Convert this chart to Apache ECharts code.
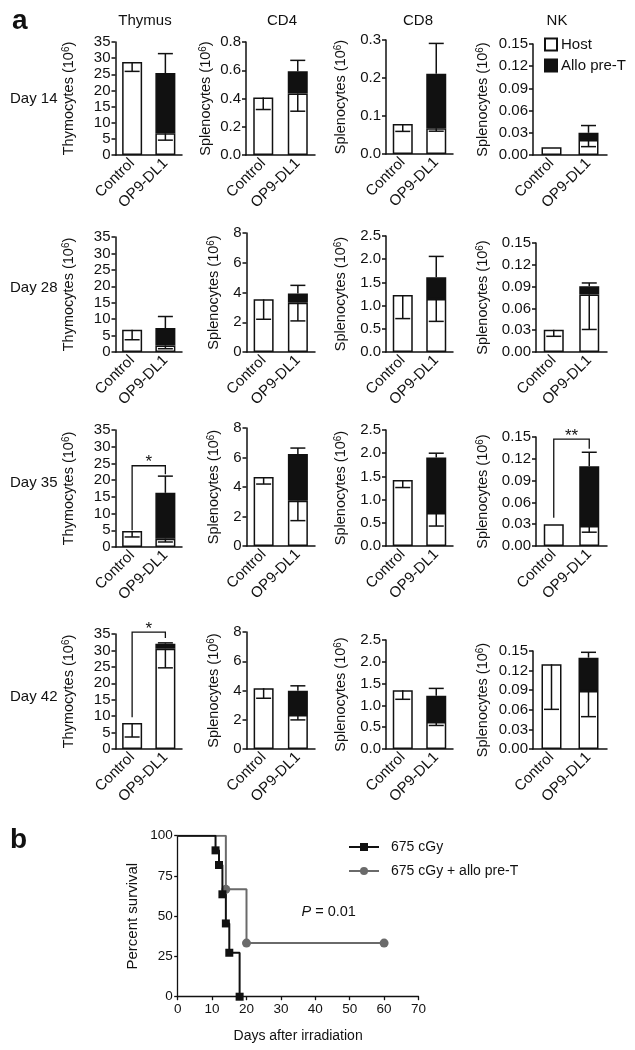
<!DOCTYPE html>
<html><head><meta charset="utf-8">
<script src="https://cdn.jsdelivr.net/npm/echarts@6/dist/echarts.min.js"></script>
<style>html,body{margin:0;padding:0;background:#fff}#c{width:635px;height:1050px}</style>
</head><body><div id="c"></div>
<script>
// ---------------- DATA ----------------
const columns = ['Thymus', 'CD4', 'CD8', 'NK'];
const dayLabels = ['Day 14', 'Day 28', 'Day 35', 'Day 42'];
const groups = ['Control', 'OP9-DL1'];
const cellTypes = ['Thymocytes', 'Splenocytes', 'Splenocytes', 'Splenocytes'];
const legendNames = ['Host', 'Allo pre-T'];

// y-axis tick settings per panel [row][col]
const axisMax = [[35, 0.8, 0.3, 0.15], [35, 8, 2.5, 0.15], [35, 8, 2.5, 0.15], [35, 8, 2.5, 0.15]];
const axisStep = [[5, 0.2, 0.1, 0.03], [5, 2, 0.5, 0.03], [5, 2, 0.5, 0.03], [5, 2, 0.5, 0.03]];
const axisDecimals = [[0, 1, 1, 2], [0, 0, 1, 2], [0, 0, 1, 2], [0, 0, 1, 2]];

// Host (white) values: [Control, OP9-DL1]
const hostValues = [
  [[28.8, 6.7], [0.407, 0.435], [0.079, 0.068], [0.0104, 0.0203]],
  [[6.76, 2.0], [3.54, 3.31], [1.23, 1.14], [0.0307, 0.079]],
  [[4.8, 2.5], [4.67, 3.06], [1.42, 0.71], [0.0298, 0.0275]],
  [[7.9, 30.5], [4.16, 2.33], [1.35, 0.62], [0.1296, 0.0888]]
];
// Allo pre-T (black) values stacked on host: [Control, OP9-DL1]
const alloValues = [
  [[null, 18.7], [null, 0.158], [null, 0.143], [null, 0.0097]],
  [[null, 5.3], [null, 0.63], [null, 0.47], [null, 0.0114]],
  [[null, 13.7], [null, 3.17], [null, 1.2], [null, 0.0821]],
  [[null, 1.56], [null, 1.65], [null, 0.60], [null, 0.051]]
];
// lower whisker ends of host bars: [Control, OP9-DL1]
const hostErrorEnds = [
  [[25.9, 4.6], [0.322, 0.31], [0.0595, 0.06], [null, 0.0113]],
  [[3.73, 1.0], [2.2, 2.09], [0.72, 0.66], [0.0216, 0.031]],
  [[3.0, 1.5], [4.2, 1.72], [1.26, 0.43], [null, 0.019]],
  [[3.65, 24.7], [3.47, 1.99], [1.14, 0.54], [0.0607, 0.0495]]
];
// upper whisker ends of OP9-DL1 totals
const totalErrorEnds = [
  [31.4, 0.67, 0.291, 0.0398],
  [10.8, 4.48, 2.06, 0.095],
  [21.2, 6.64, 2.0, 0.129],
  [32.3, 4.32, 1.39, 0.148]
];
// significance brackets
const sigPanels = [[2, 0], [2, 3], [3, 0]];
const sigLevels = [24.3, 0.147, 35.6];
const sigLeftEnds = [5.0, 0.039, 9.7];
const sigRightEnds = [21.8, 0.134, 33.8];
const sigLabels = ['*', '**', '*'];

// survival (panel b)
const survivalNames = ['675 cGy', '675 cGy + allo pre-T'];
const survivalIrrDays = [0, 11, 12, 13, 14, 15, 18];
const survivalIrrPct = [100, 90.9, 81.8, 63.6, 45.5, 27.3, 0];
const survivalPreTDays = [0, 14, 20, 60];
const survivalPreTPct = [100, 66.7, 33.3, 33.3];
const survivalXTicks = [0, 70, 10];
const survivalYTicks = [0, 100, 25];

// ---------------- LAYOUT ----------------
const FONT = "'Liberation Sans', Arial, Helvetica, sans-serif";
const INK = '#111';
const panelLeft = [[115.5, 246, 386, 533], [115.5, 246.5, 386, 536], [115.5, 246.5, 386, 536], [115.5, 246.5, 386, 533]];
const panelRight = [182, 315, 453, 607];
const panelTop = [[42, 42, 40, 44], [237, 233, 236, 243], [430, 428, 430, 437], [634, 632, 640, 651]];
const panelZero = [[155, 155, 154, 155], [352, 352, 352, 352], [547, 546, 546, 546], [749, 749, 749, 749]];
const nameGaps = [[39, 33, 38, 43], [39, 25, 38, 46], [39, 25, 38, 46], [39, 25, 38, 43]];

const grids = [], xAxes = [], yAxes = [], series = [];

function errorRender(params, api) {
  const x = api.value(0), a = api.value(1), b = api.value(2);
  const p0 = api.coord([x, a]), p1 = api.coord([x, b]);
  const st = { stroke: INK, lineWidth: 1.5 };
  return { type: 'group', children: [
    { type: 'line', shape: { x1: p0[0], y1: p0[1], x2: p1[0], y2: p1[1] }, style: st },
    { type: 'line', shape: { x1: p1[0] - 7.5, y1: p1[1], x2: p1[0] + 7.5, y2: p1[1] }, style: st }
  ]};
}
function bracketRender(params, api) {
  const l = api.value(1), r = api.value(2), lev = api.value(3);
  const a = api.coord([0, l]), b = api.coord([0, lev]), c = api.coord([1, lev]), d = api.coord([1, r]);
  const label = sigLabels[params.dataIndex + (params.seriesName === 'sig' ? 0 : 0)];
  return { type: 'group', children: [
    { type: 'polyline', shape: { points: [a, b, c, d] }, style: { stroke: INK, lineWidth: 1.3, fill: null } },
    { type: 'text', x: (b[0] + c[0]) / 2, y: b[1] - 3,
      style: { text: api.value(4) === 2 ? '**' : '*', fontSize: 17, fontFamily: FONT, fill: INK, align: 'center', verticalAlign: 'middle' } }
  ]};
}

for (let r = 0; r < 4; r++) {
  for (let c = 0; c < 4; c++) {
    const idx = r * 4 + c;
    const left = panelLeft[r][c];
    grids.push({ left: left, top: panelTop[r][c], width: panelRight[c] - left, height: panelZero[r][c] - panelTop[r][c], outerBoundsMode: 'none' });
    xAxes.push({
      gridIndex: idx, type: 'category', data: groups,
      axisLine: { lineStyle: { color: INK, width: 1.5 } },
      axisTick: { alignWithLabel: true, length: 5, lineStyle: { color: INK, width: 1.5 } },
      axisLabel: { rotate: 45, interval: 0, fontSize: 15, color: INK, margin: 6, fontFamily: FONT }
    });
    const dec = axisDecimals[r][c];
    yAxes.push({
      gridIndex: idx, type: 'value', min: 0, max: axisMax[r][c], interval: axisStep[r][c],
      name: cellTypes[c] + ' (10{sup|6})', nameLocation: 'middle', nameGap: nameGaps[r][c],
      nameTextStyle: { fontSize: 14.5, color: INK, fontFamily: FONT,
        rich: { sup: { fontSize: 10, verticalAlign: 'top', color: INK, fontFamily: FONT } } },
      axisLine: { show: true, lineStyle: { color: INK, width: 1.5 } },
      axisTick: { show: true, length: 4, lineStyle: { color: INK, width: 1.5 } },
      splitLine: { show: false },
      axisLabel: { fontSize: 15, color: INK, margin: 5, fontFamily: FONT, formatter: v => v.toFixed(dec) }
    });
    series.push({
      type: 'bar', name: legendNames[0], xAxisIndex: idx, yAxisIndex: idx, stack: 's' + idx,
      data: hostValues[r][c], barWidth: 20,
      itemStyle: { color: '#fff', borderColor: INK, borderWidth: 1.5 }
    });
    series.push({
      type: 'bar', name: legendNames[1], xAxisIndex: idx, yAxisIndex: idx, stack: 's' + idx,
      data: alloValues[r][c].map(v => v == null ? '-' : v), barWidth: 20,
      itemStyle: { color: INK, borderColor: INK, borderWidth: 1.5 }
    });
    const e = [];
    for (let g = 0; g < 2; g++) {
      if (hostErrorEnds[r][c][g] != null) e.push([g, hostValues[r][c][g], hostErrorEnds[r][c][g]]);
    }
    const total = hostValues[r][c][1] + alloValues[r][c][1];
    e.push([1, total, totalErrorEnds[r][c]]);
    series.push({ type: 'custom', name: 'err', xAxisIndex: idx, yAxisIndex: idx, z: 5, silent: true,
      renderItem: errorRender, encode: { x: 0, y: [1, 2] }, data: e });
  }
}
sigPanels.forEach((p, i) => {
  const idx = p[0] * 4 + p[1];
  series.push({ type: 'custom', name: 'sig', xAxisIndex: idx, yAxisIndex: idx, z: 6, silent: true, clip: false,
    renderItem: bracketRender, encode: { x: 0, y: [1, 2, 3] },
    data: [[0, sigLeftEnds[i], sigRightEnds[i], sigLevels[i], sigLabels[i].length]] });
});

// survival panel
const sIdx = 16;
grids.push({ left: 177.7, top: 835.7, width: 240.8, height: 161, outerBoundsMode: 'none' });
xAxes.push({
  gridIndex: sIdx, type: 'value', min: survivalXTicks[0], max: survivalXTicks[1], interval: survivalXTicks[2],
  name: 'Days after irradiation', nameLocation: 'middle', nameGap: 32,
  nameTextStyle: { fontSize: 14, color: INK, fontFamily: FONT },
  axisLine: { lineStyle: { color: INK, width: 1.3 } },
  axisTick: { length: 3.5, lineStyle: { color: INK, width: 1.3 } },
  splitLine: { show: false },
  axisLabel: { fontSize: 13.5, color: INK, margin: 6, fontFamily: FONT }
});
yAxes.push({
  gridIndex: sIdx, type: 'value', min: survivalYTicks[0], max: survivalYTicks[1], interval: survivalYTicks[2],
  name: 'Percent survival', nameLocation: 'middle', nameGap: 37,
  nameTextStyle: { fontSize: 15, color: INK, fontFamily: FONT },
  axisLine: { show: true, lineStyle: { color: INK, width: 1.3 } },
  axisTick: { show: true, length: 3.5, lineStyle: { color: INK, width: 1.3 } },
  splitLine: { show: false },
  axisLabel: { fontSize: 13.5, color: INK, margin: 5, fontFamily: FONT }
});
series.push({
  type: 'line', name: survivalNames[0], xAxisIndex: sIdx, yAxisIndex: sIdx, step: 'end',
  data: survivalIrrDays.map((d, i) => i === 0 ? { value: [d, survivalIrrPct[i]], symbol: 'none' } : [d, survivalIrrPct[i]]),
  symbol: 'rect', symbolSize: 8, showAllSymbol: true, z: 3,
  lineStyle: { color: INK, width: 2 }, itemStyle: { color: INK }
});
series.push({
  type: 'line', name: survivalNames[1], xAxisIndex: sIdx, yAxisIndex: sIdx, step: 'end',
  data: survivalPreTDays.map((d, i) => i === 0 ? { value: [d, survivalPreTPct[i]], symbol: 'none' } : [d, survivalPreTPct[i]]),
  symbol: 'circle', symbolSize: 9, showAllSymbol: true, z: 2,
  lineStyle: { color: '#6a6a6a', width: 2 }, itemStyle: { color: '#6a6a6a' }
});

// ---------------- TEXT ----------------
const graphics = [
  { type: 'text', x: 12, y: 7, style: { text: 'a', fontSize: 28, fontWeight: 'bold', fontFamily: FONT, fill: INK } },
  { type: 'text', x: 10, y: 826, style: { text: 'b', fontSize: 28, fontWeight: 'bold', fontFamily: FONT, fill: INK } },
  { type: 'text', x: 301.5, y: 912, style: { text: '{i|P} = 0.01', fontSize: 14.5, fontFamily: FONT, fill: INK, verticalAlign: 'middle',
      rich: { i: { fontStyle: 'italic', fontSize: 14.5, fontFamily: FONT, fill: INK } } } }
];
const titleX = [145, 282, 418, 557];
columns.forEach((t, i) => graphics.push({ type: 'text', x: titleX[i], y: 21,
  style: { text: t, fontSize: 15, fontFamily: FONT, fill: INK, align: 'center', verticalAlign: 'middle' } }));
const dayY = [99, 288, 483, 697];
dayLabels.forEach((t, i) => graphics.push({ type: 'text', x: 10, y: dayY[i],
  style: { text: t, fontSize: 15, fontFamily: FONT, fill: INK, verticalAlign: 'middle' } }));

const option = {
  animation: false,
  backgroundColor: '#fff',
  textStyle: { fontFamily: FONT, color: INK },
  grid: grids, xAxis: xAxes, yAxis: yAxes, series: series,
  legend: [
    { data: legendNames, orient: 'vertical', left: 544, top: 37, padding: 0, itemGap: 6,
      itemWidth: 12, itemHeight: 12, icon: 'rect', selectedMode: false,
      textStyle: { fontSize: 15, color: INK, fontFamily: FONT, padding: [0, 0, 0, -1] } },
    { data: survivalNames, orient: 'vertical', left: 348, top: 840, padding: 0, itemGap: 10,
      itemWidth: 30, itemHeight: 10, selectedMode: false,
      textStyle: { fontSize: 14, color: INK, fontFamily: FONT, padding: [0, 0, 0, 7] } }
  ],
  graphic: graphics
};
const chart = echarts.init(document.getElementById('c'), null, { renderer: 'canvas' });
chart.setOption(option);
</script></body></html>
